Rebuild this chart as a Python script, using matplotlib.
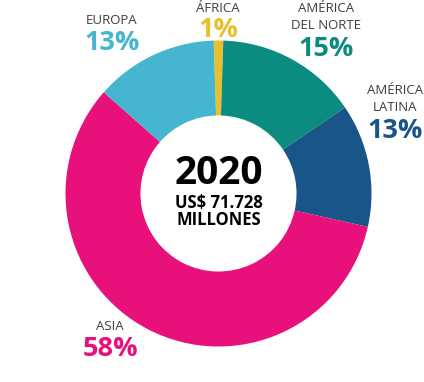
import matplotlib.pyplot as plt

regions = ["ÁFRICA", "AMÉRICA\nDEL NORTE", "AMÉRICA\nLATINA", "ASIA", "EUROPA"]
shares = [1, 15, 13, 58, 13]
colors = ["#E9C02B", "#0C8B81", "#1A5589", "#E8107A", "#46B5D0"]

W, H = 424, 382
fig = plt.figure(figsize=(W / 100, H / 100), dpi=100)
ax = fig.add_axes([0, 0, 1, 1])

# pie drawn in pixel units, y flipped by hand
cx, cy, r = 218.5, H - 193.5, 153
ax.pie(shares, colors=colors, startangle=90 + 1.8, counterclock=False,
       center=(cx, cy), radius=r,
       wedgeprops=dict(width=r * 0.49, linewidth=0))
ax.set_xlim(0, W)
ax.set_ylim(0, H)
ax.set_aspect("equal")
ax.axis("off")

font = "Open Sans"
gray = "#3d3d3d"

# label positions (pixels): name centre, percent centre
spots = [(218, 8, 30), (326, 17, 49), (395, 99, 131), (110, 326, 349), (112, 21, 43)]
for name, val, col, (x, yn, yp) in zip(regions, shares, colors, spots):
    ax.text(x, H - yn, name, ha="center", va="center", fontsize=9.5,
            color=gray, family=font, linespacing=1.35)
    ax.text(x, H - yp, f"{val}%", ha="center", va="center", fontsize=19.5,
            color=col, family=font, fontweight="bold")

ax.text(cx, H - 173, "2020", ha="center", va="center", fontsize=28,
        family=font, fontweight="bold", color="black")
ax.text(cx, H - 203, "US$ 71.728", ha="center", va="center", fontsize=12,
        family=font, fontweight="bold", color="black")
ax.text(cx, H - 220, "MILLONES", ha="center", va="center", fontsize=12,
        family=font, fontweight="bold", color="black")

fig.savefig("out.png", dpi=100)
